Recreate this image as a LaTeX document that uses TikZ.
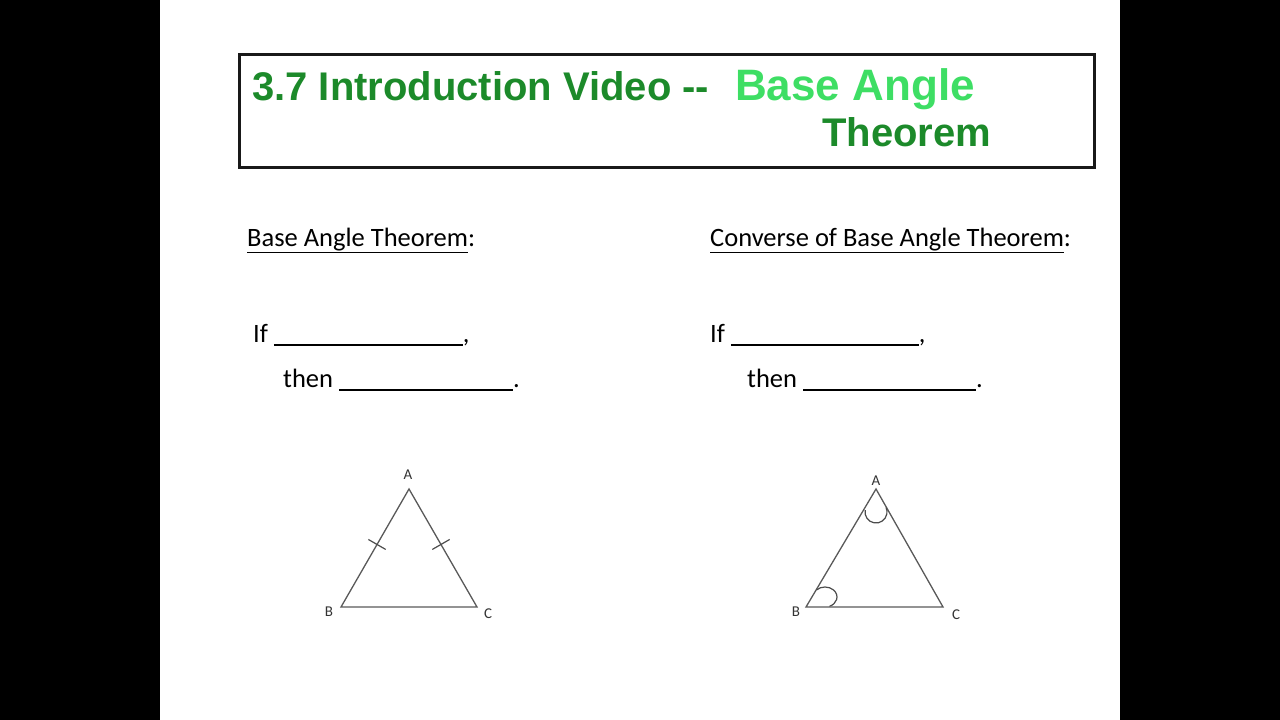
\documentclass[tikz,border=0pt]{standalone}
\usepackage{fontspec}
\setmainfont{Carlito}
\newfontfamily\titlefont{Liberation Sans}
\usetikzlibrary{calc}

\definecolor{titlegreen}{RGB}{28,138,42}
\definecolor{lightgreen}{RGB}{62,222,100}

% answer blank, drawn like a row of underscores
\newcommand{\answerblank}[1]{\rule[-3.5pt]{#1}{1.3pt}}

\begin{document}
\begin{tikzpicture}[
  x=1pt, y=1pt,
  font=\fontsize{26.5}{31}\selectfont,
  txt/.style   ={anchor=base west,inner sep=0pt},
  ttl/.style   ={txt,font=\titlefont\bfseries\fontsize{40}{46}\selectfont,text=titlegreen},
  vlabel/.style={inner sep=0pt,font=\fontsize{15}{17}\selectfont,text=black!80},
  tri/.style   ={draw=black!65,line width=1.3pt,line join=miter},
  tickmark/.style={draw=black!70,line width=1.2pt}
]

% ==================================================
% PAGE (black bars left and right)
% ==================================================
\useasboundingbox (0,0) rectangle (1280,-720);
\fill[black] (0,0) rectangle (160,-720);
\fill[black] (1120,0) rectangle (1280,-720);

% ==================================================
% TITLE
% ==================================================
\node[draw=black!90, line width=3pt, minimum width=855, minimum height=113,
      anchor=north west, inner sep=0pt] (titlebox) at (237.5,-52.5) {};

\node[ttl] (ttlmain) at (252,-100) {3.7 Introduction Video -{}-};
\node[ttl, font=\titlefont\bfseries\fontsize{44}{50}\selectfont, text=lightgreen]
  (ttlbase) at (735,-100) {Base Angle};
\node[ttl] (ttltheorem) at (822,-146) {Theorem};

% ==================================================
% THEOREM STATEMENTS
% ==================================================
\node[txt] (leftttl)  at (247,-246) {\underline{Base Angle Theorem}:};
\node[txt] (rightttl) at (710,-246) {\underline{Converse of Base Angle Theorem}:};

\node[txt] (ifleft)    at (253,-342) {If \answerblank{189pt},};
\node[txt] (thenleft)  at (283,-387) {then \answerblank{174pt}.};
\node[txt] (ifright)   at (710,-342) {If \answerblank{188pt},};
\node[txt] (thenright) at (747,-387) {then \answerblank{173pt}.};

% ==================================================
% LEFT TRIANGLE (congruent sides)
% ==================================================
\coordinate (lA) at (409,-489);
\coordinate (lB) at (341,-607);
\coordinate (lC) at (477,-607);
\draw[tri] (lA) -- (lB) -- (lC) -- cycle;

\node[vlabel] (lAlbl) at (408,-475) {A};
\node[vlabel] (lBlbl) at (329,-612) {B};
\node[vlabel] (lClbl) at (488,-614) {C};

\draw[tickmark] ($(lA)!0.47!(lB)!10pt!90:(lB)$) -- ($(lA)!0.47!(lB)!10pt!-90:(lB)$);
\draw[tickmark] ($(lA)!0.47!(lC)!10pt!90:(lC)$) -- ($(lA)!0.47!(lC)!10pt!-90:(lC)$);

% ==================================================
% RIGHT TRIANGLE (congruent angles)
% ==================================================
\coordinate (rA) at (876,-489);
\coordinate (rB) at (806,-607);
\coordinate (rC) at (943,-607);
\draw[tri] (rA) -- (rB) -- (rC) -- cycle;

\node[vlabel] (rAlbl) at (876,-481) {A};
\node[vlabel] (rBlbl) at (796,-612) {B};
\node[vlabel] (rClbl) at (956,-615) {C};

\coordinate (rAarc) at (876,-512);
\coordinate (rBarc) at (825,-597);
\draw[tickmark] ($(rAarc)+(170:11)$) arc[start angle=170, end angle=384, radius=11];
\draw[tickmark] ($(rBarc)+({12*cos(135)},{10*sin(135)})$)
  arc[start angle=135, end angle=-68, x radius=12, y radius=10];

\end{tikzpicture}
\end{document}
